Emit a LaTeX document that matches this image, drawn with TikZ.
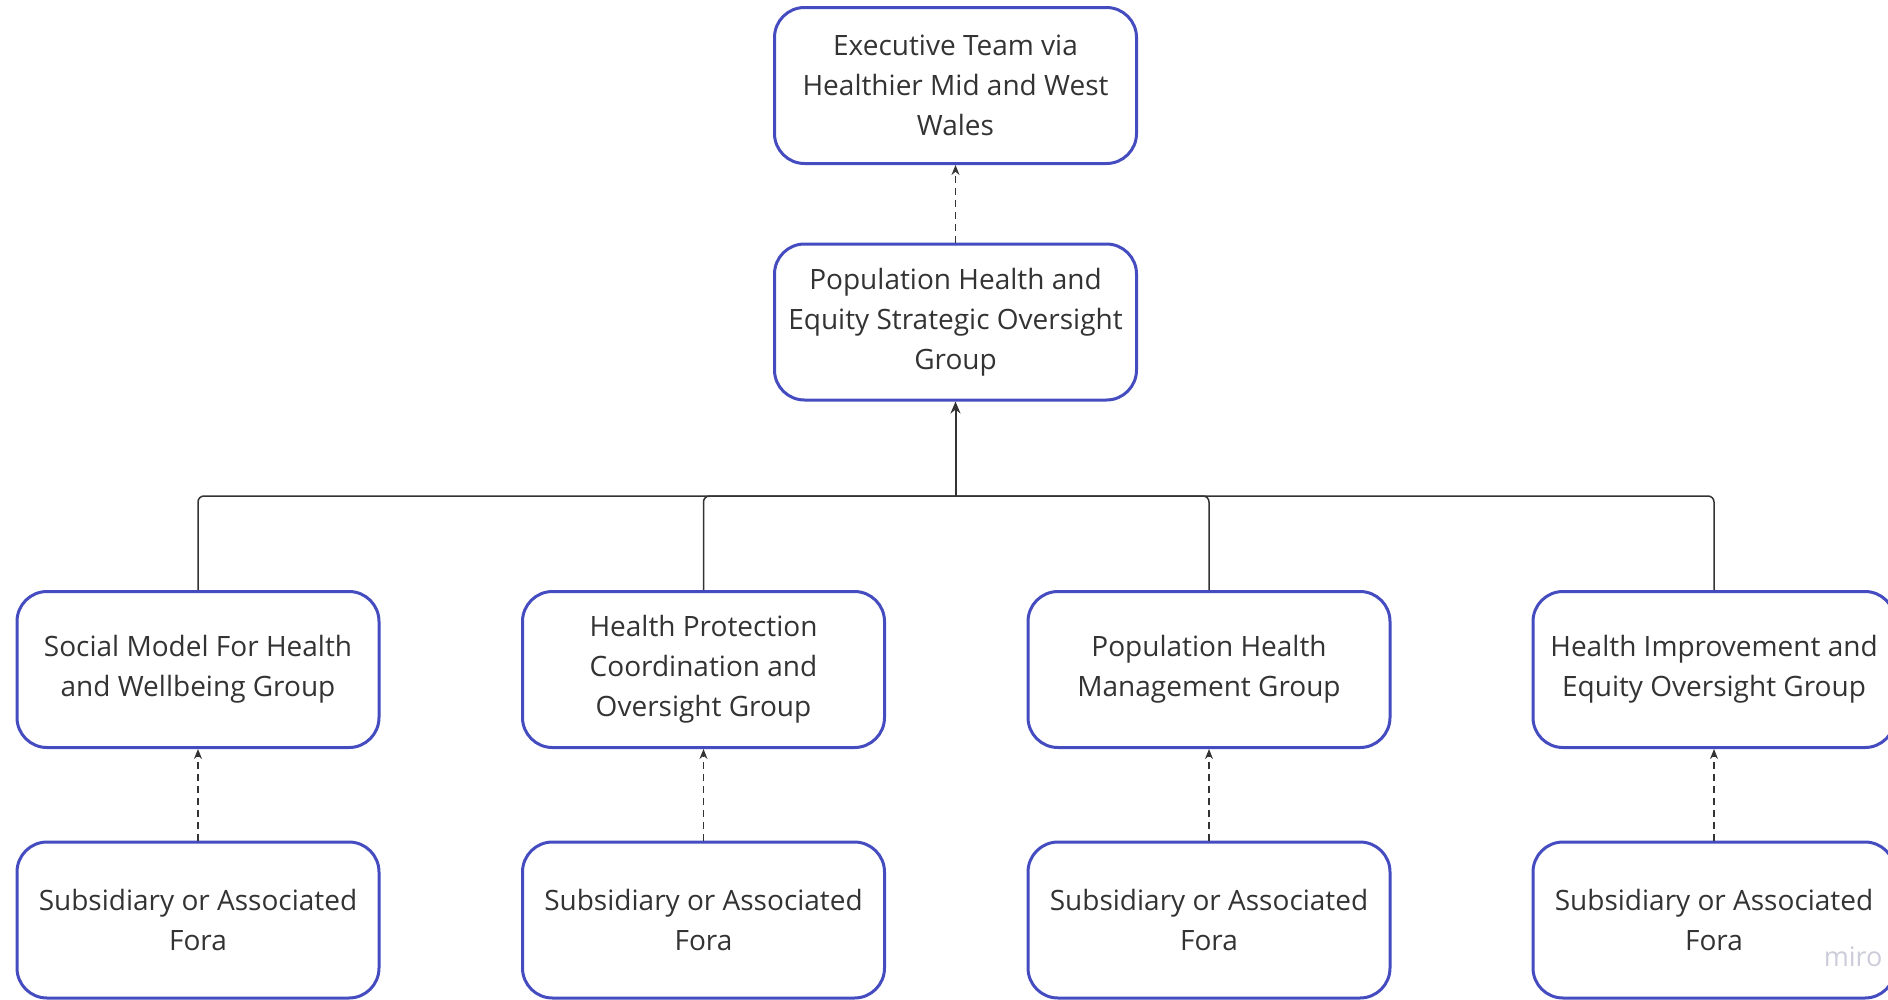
\documentclass[tikz,border=0pt]{standalone}
\usepackage{fontspec}
\setmainfont{Open Sans}
\usetikzlibrary{arrows.meta}

\definecolor{boxblue}{RGB}{68,76,192}
\definecolor{inkgrey}{RGB}{51,51,51}
\definecolor{markgrey}{RGB}{204,204,218}

\tikzset{
  groupbox/.style={draw=boxblue, line width=3pt, rounded corners=30pt,
    minimum width=362pt, minimum height=156pt, align=center,
    text=inkgrey, font=\fontsize{28}{40}\selectfont},
  feeds/.style={inkgrey, line width=1.5pt, dashed, dash pattern=on 7pt off 5pt,
    -{Stealth[length=10pt,width=8pt]}},
  bus/.style={inkgrey, line width=1.5pt, rounded corners=6pt}
}

\begin{document}
\begin{tikzpicture}[x=1pt, y=-1pt]
        \useasboundingbox (0,0) rectangle (1888,999);

        % Top of the structure
        \node[groupbox] (exec) at (955.5,85.5) {Executive Team via\\Healthier Mid and West\\Wales};
        \node[groupbox] (oversight) at (955.5,322) {Population Health and\\Equity Strategic Oversight\\Group};

        % Reporting groups
        \node[groupbox] (social) at (198,669.5) {Social Model For Health\\and Wellbeing Group};
        \node[groupbox] (protect) at (703.5,669.5) {Health Protection\\Coordination and\\Oversight Group};
        \node[groupbox] (pophealth) at (1209,669.5) {Population Health\\Management Group};
        \node[groupbox] (improve) at (1714,669.5) {Health Improvement and\\Equity Oversight Group};

        % Subsidiary fora
        \node[groupbox] (foraA) at (198,920) {Subsidiary or Associated\\Fora};
        \node[groupbox] (foraB) at (703.5,920) {Subsidiary or Associated\\Fora};
        \node[groupbox] (foraC) at (1209,920) {Subsidiary or Associated\\Fora};
        \node[groupbox] (foraD) at (1714,920) {Subsidiary or Associated\\Fora};

        % Dashed reporting lines
        \draw[feeds] (oversight.north) -- (exec.south);
        \draw[feeds] (foraA.north) -- (social.south);
        \draw[feeds] (foraB.north) -- (protect.south);
        \draw[feeds] (foraC.north) -- (pophealth.south);
        \draw[feeds] (foraD.north) -- (improve.south);

        % Bus into the oversight group
        \coordinate (hub) at (955.5,496);
        \draw[bus] (social.north) |- (hub);
        \draw[bus] (protect.north) |- (hub);
        \draw[bus] (pophealth.north) |- (hub);
        \draw[bus] (improve.north) |- (hub);
        \draw[inkgrey, line width=2pt, -{Stealth[length=12pt,width=10pt]}] (hub) -- (oversight.south);

        \node[text=markgrey, font=\fontsize{27}{27}\selectfont, anchor=base east] (miro) at (1886,966) {miro};
    \end{tikzpicture}
\end{document}
